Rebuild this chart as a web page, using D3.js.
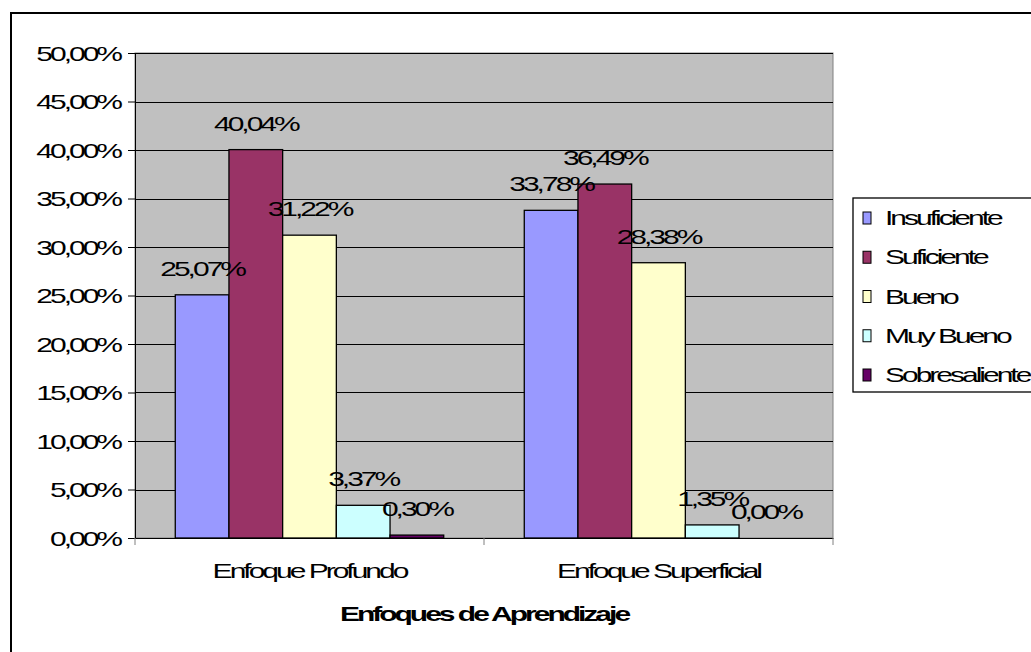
<!DOCTYPE html>
<html>
<head>
<meta charset="utf-8">
<script src="https://cdn.jsdelivr.net/npm/d3@7"></script>
<style>
  html, body { margin: 0; padding: 0; background: #fff; }
  svg { display: block; }
  text { font-family: "Liberation Sans", Arial, sans-serif; fill: #000; letter-spacing: -2px; }
</style>
</head>
<body>
<svg id="chart" width="1031" height="652"></svg>
<script>
// Categories, series and values (percent)
const categories = ["Enfoque Profundo", "Enfoque Superficial"];
const seriesNames = ["Insuficiente", "Suficiente", "Bueno", "Muy Bueno", "Sobresaliente"];
const seriesColors = ["#9999FF", "#993366", "#FFFFCC", "#CCFFFF", "#660066"];
const profundoValues = [25.07, 40.04, 31.22, 3.37, 0.30];
const superficialValues = [33.78, 36.49, 28.38, 1.35, 0.00];
const yTicks = [0, 5, 10, 15, 20, 25, 30, 35, 40, 45, 50];
const xTitle = "Enfoques de Aprendizaje";

const valuesByCategory = [profundoValues, superficialValues];
const rows = categories.map((c, i) => ({
  category: c,
  values: seriesNames.map((s, j) => ({ series: s, value: valuesByCategory[i][j], color: seriesColors[j] }))
}));

const svg = d3.select("#chart");
const plot = { left: 135, top: 53, right: 833, bottom: 538 };
const SX = 1.5; // horizontal stretch of the lettering

const fmt = v => d3.format(".2f")(v).replace(".", ",") + "%";

// Outer chart frame
svg.append("rect")
  .attr("x", 11).attr("y", 13).attr("width", 1060).attr("height", 700)
  .attr("fill", "#fff").attr("stroke", "#000").attr("stroke-width", 2);

const x0 = d3.scaleBand().domain(categories).range([plot.left, plot.right]).paddingInner(0).paddingOuter(0);
// gap width of 150% of a bar, split on both sides of each cluster
const x1 = d3.scaleBand().domain(seriesNames).range([0, x0.bandwidth()])
  .paddingInner(0).paddingOuter(0.75);
const y = d3.scaleLinear().domain([0, 50]).range([plot.bottom, plot.top]);

// Plot area background
svg.append("rect")
  .attr("x", plot.left).attr("y", plot.top)
  .attr("width", plot.right - plot.left).attr("height", plot.bottom - plot.top)
  .attr("fill", "#C0C0C0").attr("stroke", "#808080").attr("stroke-width", 1);

// Horizontal gridlines
svg.append("g").selectAll("line").data(yTicks.filter(t => t > 0)).join("line")
  .attr("x1", plot.left).attr("x2", plot.right)
  .attr("y1", d => Math.round(y(d)) + 0.5).attr("y2", d => Math.round(y(d)) + 0.5)
  .attr("stroke", "#000").attr("stroke-width", 1);

// Y axis
const yAxis = svg.append("g").attr("transform", `translate(${plot.left},0)`)
  .call(d3.axisLeft(y).tickValues(yTicks).tickSize(7).tickPadding(8).tickFormat(fmt));
yAxis.select(".domain").attr("stroke", "#000");
yAxis.selectAll(".tick line").attr("stroke", "#000");
yAxis.selectAll(".tick text").each(function() {
  const t = d3.select(this);
  const xx = +t.attr("x");
  t.attr("x", null).attr("dy", null)
   .attr("transform", `translate(${xx},7) scale(${SX},1)`)
   .attr("font-size", 20).attr("text-anchor", "end")
   .attr("font-family", "Liberation Sans, Arial, sans-serif");
});

// Bars
const groups = svg.append("g").selectAll("g").data(rows).join("g")
  .attr("transform", d => `translate(${x0(d.category)},0)`);

groups.selectAll("rect").data(d => d.values).join("rect")
  .attr("x", d => x1(d.series))
  .attr("y", d => y(d.value))
  .attr("width", x1.bandwidth())
  .attr("height", d => y(0) - y(d.value))
  .attr("fill", d => d.color)
  .attr("stroke", "#000").attr("stroke-width", 1.3);

// Value labels above bars
groups.selectAll("text").data(d => d.values).join("text")
  .attr("transform", d => `translate(${x1(d.series) + x1.bandwidth() / 2},${y(d.value) - 19}) scale(${SX},1)`)
  .attr("text-anchor", "middle").attr("font-size", 20)
  .text(d => fmt(d.value));

// X axis
const xAxis = svg.append("g").attr("transform", `translate(0,${plot.bottom})`)
  .call(d3.axisBottom(x0).tickSize(0).tickFormat(""));
xAxis.select(".domain").attr("stroke", "#000");
xAxis.selectAll(".tick").remove();

// Category separators
const seps = [plot.left, x0(categories[1]), plot.right];
svg.append("g").selectAll("line").data(seps).join("line")
  .attr("x1", d => d).attr("x2", d => d)
  .attr("y1", plot.bottom).attr("y2", plot.bottom + 7)
  .attr("stroke", "#808080").attr("stroke-width", 1);

// Category labels
svg.append("g").selectAll("text").data(categories).join("text")
  .attr("transform", d => `translate(${x0(d) + x0.bandwidth() / 2},578) scale(${SX},1)`)
  .attr("text-anchor", "middle").attr("font-size", 20)
  .text(d => d);

// Axis title
svg.append("text")
  .attr("transform", `translate(${(plot.left + plot.right) / 2},621) scale(${SX},1)`)
  .attr("text-anchor", "middle").attr("font-size", 20).attr("font-weight", "bold")
  .text(xTitle);

// Legend
const legend = svg.append("g");
legend.append("rect")
  .attr("x", 853).attr("y", 198).attr("width", 300).attr("height", 194)
  .attr("fill", "#fff").attr("stroke", "#000").attr("stroke-width", 1.3);
const ly = d3.scalePoint().domain(seriesNames).range([218, 375]);
const items = legend.selectAll("g.item").data(seriesNames).join("g").attr("class", "item");
items.append("rect")
  .attr("x", 863).attr("y", d => ly(d) - 6)
  .attr("width", 8).attr("height", 12)
  .attr("fill", (d, i) => seriesColors[i])
  .attr("stroke", "#000").attr("stroke-width", 1);
items.append("text")
  .attr("transform", d => `translate(885,${ly(d) + 7}) scale(${SX},1)`)
  .attr("font-size", 20)
  .text(d => d);
</script>
</body>
</html>
